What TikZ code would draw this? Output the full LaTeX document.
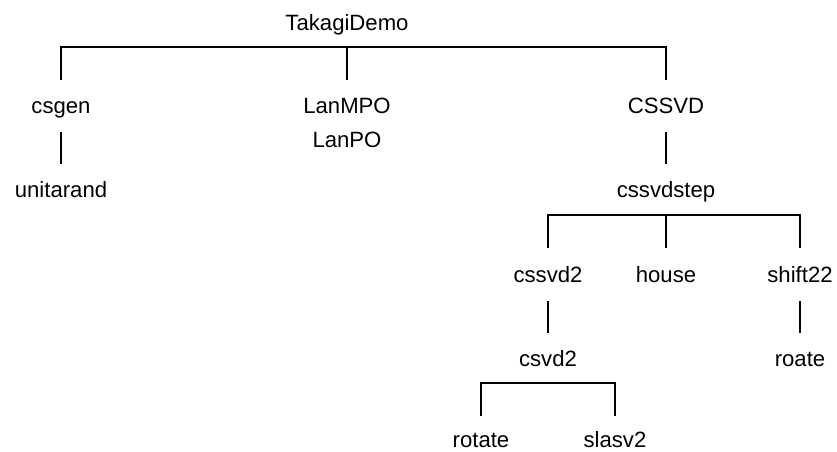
\documentclass[tikz,border=0pt]{standalone}
\usepackage{fontspec}
\setmainfont{Liberation Sans}

\begin{document}
\begin{tikzpicture}[x=0.75pt,y=0.75pt,yscale=-1,xscale=1,
  lbl/.style={anchor=base,inner sep=0pt,font=\fontsize{16.6}{20}\selectfont},
  link/.style={line width=0.9pt}]
\path [use as bounding box] (0,0) rectangle (837,451); %set diagram left start at 0, and has height of 451

%Rows of the links
\coordinate (barA) at (0,47);
\coordinate (footA) at (0,80);
\coordinate (stemB) at (0,132);
\coordinate (footB) at (0,164);
\coordinate (barC) at (0,215);
\coordinate (footC) at (0,248);
\coordinate (stemD) at (0,301);
\coordinate (footD) at (0,333);
\coordinate (barE) at (0,383);
\coordinate (footE) at (0,416);

% Text Node
\node [lbl] (takagi) at (347,30) {TakagiDemo};
% Text Node
\node [lbl] (csgen) at (61,113) {csgen};
% Text Node
\node [lbl] (lanmpo) at (347,113) {LanMPO};
% Text Node
\node [lbl] (lanpo) at (347,147) {LanPO};
% Text Node
\node [lbl] (cssvd) at (666,113) {CSSVD};
% Text Node
\node [lbl] (unitarand) at (61,197) {unitarand};
% Text Node
\node [lbl] (cssvdstep) at (666,197) {cssvdstep};
% Text Node
\node [lbl] (cssvdtwo) at (548,282) {cssvd2};
% Text Node
\node [lbl] (house) at (666,282) {house};
% Text Node
\node [lbl] (shift) at (800,282) {shift22};
% Text Node
\node [lbl] (csvdtwo) at (548,366) {csvd2};
% Text Node
\node [lbl] (roate) at (800,366) {roate};
% Text Node
\node [lbl] (rotate) at (481,447) {rotate};
% Text Node
\node [lbl] (slasv) at (615,447) {slasv2};

%Straight Lines: TakagiDemo
\draw [link] (csgen |- footA) -- (csgen |- barA) -- (cssvd |- barA) -- (cssvd |- footA) ;
\draw [link] (lanmpo |- barA) -- (lanmpo |- footA) ;
%Straight Lines: csgen, CSSVD
\draw [link] (csgen |- stemB) -- (unitarand |- footB) ;
\draw [link] (cssvd |- stemB) -- (cssvdstep |- footB) ;
%Straight Lines: cssvdstep
\draw [link] (cssvdtwo |- footC) -- (cssvdtwo |- barC) -- (shift |- barC) -- (shift |- footC) ;
\draw [link] (house |- barC) -- (house |- footC) ;
%Straight Lines: cssvd2, shift22
\draw [link] (cssvdtwo |- stemD) -- (csvdtwo |- footD) ;
\draw [link] (shift |- stemD) -- (roate |- footD) ;
%Straight Lines: csvd2
\draw [link] (rotate |- footE) -- (rotate |- barE) -- (slasv |- barE) -- (slasv |- footE) ;

\end{tikzpicture}
\end{document}
